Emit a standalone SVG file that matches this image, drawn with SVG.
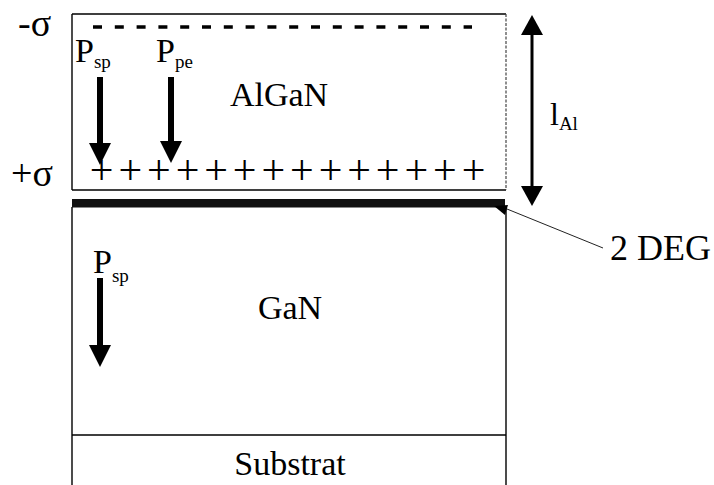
<svg xmlns="http://www.w3.org/2000/svg" width="714" height="485" viewBox="0 0 714 485">
  <style>
    .t { font-family: "Liberation Serif", "Times New Roman", serif; fill: #000; }
    .big { font-size: 34px; }
    .sub { font-size: 19px; }
    .edge { stroke: #000; stroke-width: 1.4; fill: none; }
    .pol { stroke: #000; stroke-width: 6; fill: none; }
  </style>
  <defs>
    <marker id="head" markerUnits="userSpaceOnUse" markerWidth="22" markerHeight="22" viewBox="0 0 22 22" refX="0" refY="11" orient="auto-start-reverse">
      <path d="M0,0 L22,11 L0,22 z" fill="#000"/>
    </marker>
    <marker id="dimHead" markerUnits="userSpaceOnUse" markerWidth="20" markerHeight="22" viewBox="0 0 20 22" refX="0" refY="11" orient="auto-start-reverse">
      <path d="M0,0 L20,11 L0,22 z" fill="#000"/>
    </marker>
  </defs>
  <rect width="714" height="485" fill="#fff"/>

  <!-- AlGaN barrier layer -->
  <g id="algan">
    <path class="edge" d="M72,14 H506 M72,14 V190 M72,190 H506"/>
    <path d="M506,14 V190" stroke="#444" stroke-width="1.2" stroke-dasharray="3 1.5" fill="none"/>
    <!-- negative surface charge -->
    <path d="M93,27 H472" stroke="#000" stroke-width="3.5" stroke-dasharray="9 12.8" fill="none"/>
    <text class="t big" x="279" y="106" text-anchor="middle">AlGaN</text>
    <!-- positive interface charge -->
    <text class="t" font-size="42" y="184" text-anchor="middle" x="101.7 130.3 158.9 187.5 216.1 244.7 273.3 301.9 330.5 359.1 387.7 416.3 444.9 473.5">++++++++++++++</text>
    <text class="t" font-size="38" x="18" y="36">-σ</text>
    <text class="t" font-size="38" x="11" y="186">+σ</text>
    <text class="t big" x="75" y="62">P<tspan class="sub" dy="6">sp</tspan></text>
    <text class="t big" x="156" y="62">P<tspan class="sub" dy="6">pe</tspan></text>
  </g>

  <!-- two-dimensional electron gas at the heterointerface -->
  <g id="deg2">
    <rect x="72" y="199" width="433" height="8.5" fill="#111"/>
    <polygon points="494,206 508,205 505,215" fill="#000"/>
    <text class="t" font-size="36" x="610" y="260">2 DEG</text>
  </g>

  <!-- GaN buffer layer -->
  <g id="gan">
    <path class="edge" d="M72,207 V435 M506,207 V435 M72,435 H506"/>
    <text class="t big" x="290" y="319" text-anchor="middle">GaN</text>
    <text class="t big" x="93" y="273">P<tspan class="sub" dy="9">sp</tspan></text>
  </g>

  <!-- substrate -->
  <g id="substrate">
    <path class="edge" d="M72,435 V485 M506,435 V485"/>
    <text class="t big" x="290" y="475" text-anchor="middle">Substrat</text>
  </g>

  <!-- barrier thickness label -->
  <g id="thickness">
    <text class="t" font-size="32" x="550" y="125">l<tspan class="sub" dy="5">Al</tspan></text>
  </g>

  <!-- polarization arrows, dimension arrow and leader line -->
  <g id="connectors">
    <line class="pol" x1="100" y1="77" x2="100" y2="143" marker-end="url(#head)"/>
    <line class="pol" x1="171" y1="77" x2="171" y2="141" marker-end="url(#head)"/>
    <line class="pol" x1="100" y1="278" x2="100" y2="345" marker-end="url(#head)"/>
    <line x1="532" y1="35" x2="532" y2="186" stroke="#000" stroke-width="3" marker-start="url(#dimHead)" marker-end="url(#dimHead)"/>
    <line x1="507" y1="209" x2="603" y2="248" stroke="#222" stroke-width="1"/>
  </g>
</svg>
